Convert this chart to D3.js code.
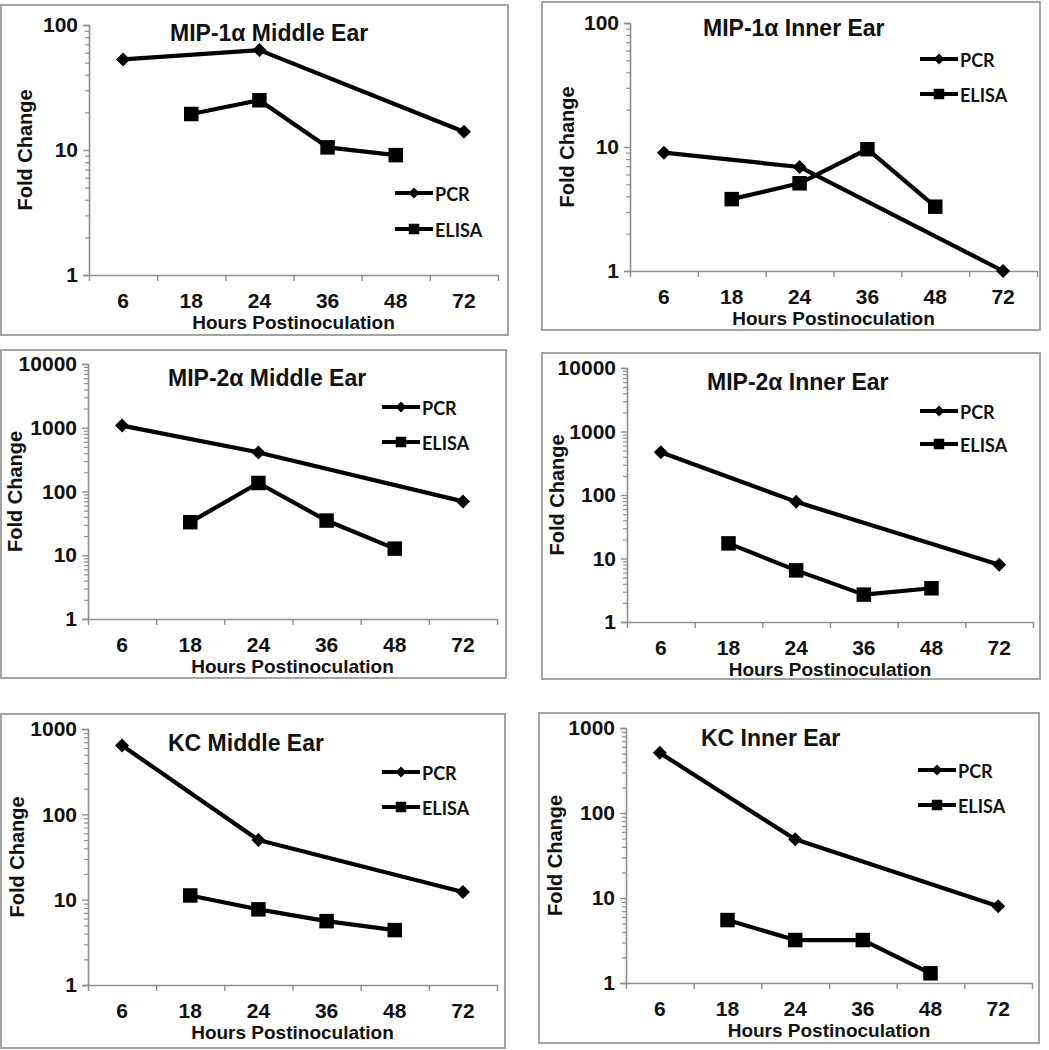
<!DOCTYPE html>
<html>
<head>
<meta charset="utf-8">
<script src="https://cdn.jsdelivr.net/npm/d3@7/dist/d3.min.js"></script>
<style>
  html, body { margin: 0; padding: 0; background: #fff; }
  svg { display: block; }
</style>
</head>
<body>
<svg id="chart" width="1049" height="1050"></svg>
<script>
// ---------- DATA ----------
const categories = ["6", "18", "24", "36", "48", "72"];
const panelTitles = ["MIP-1α Middle Ear", "MIP-1α Inner Ear", "MIP-2α Middle Ear", "MIP-2α Inner Ear", "KC Middle Ear", "KC Inner Ear"];
const seriesNames = ["PCR", "ELISA"];
const yMaxValues = [100, 100, 10000, 10000, 1000, 1000];
const pcrValues = [
  [53, null, 63, null, null, 14],
  [9, null, 6.9, null, null, 1],
  [1080, null, 410, null, null, 70],
  [470, null, 78, null, null, 8],
  [640, null, 50, null, null, 12.3],
  [510, null, 49, null, null, 8]
];
const elisaValues = [
  [null, 19.4, 25, 10.5, 9.1, null],
  [null, 3.8, 5.1, 9.6, 3.3, null],
  [null, 33, 136, 35, 12.7, null],
  [null, 17.3, 6.5, 2.7, 3.4, null],
  [null, 11.2, 7.7, 5.6, 4.4, null],
  [null, 5.5, 3.2, 3.2, 1.3, null]
];
const xAxisTitle = "Hours Postinoculation";
const yAxisTitle = "Fold Change";

// ---------- LAYOUT ----------
const layouts = [
  {frame:[1,5,507,330],   plot:[89,25,409,250],  titleX:170, titleY:33,  legX:395, legY:[193,229], yTitleDx:-64},
  {frame:[542,2,498,328], plot:[630,23,407,248], titleX:703, titleY:28,  legX:920, legY:[59,94],   yTitleDx:-63},
  {frame:[1,350,505,328], plot:[88,364,409,255], titleX:168, titleY:378, legX:382, legY:[407,442], yTitleDx:-73},
  {frame:[542,353,498,326],plot:[627,368,406,254],titleX:707, titleY:382, legX:920, legY:[411,444], yTitleDx:-70},
  {frame:[1,714,504,334], plot:[88,729,409,256], titleX:168, titleY:743, legX:382, legY:[772,807], yTitleDx:-71},
  {frame:[539,713,500,330],plot:[626,728,406,255],titleX:701, titleY:738, legX:918, legY:[770,805], yTitleDx:-71}
];

const svg = d3.select("#chart");
const axisGray = "#8e8e8e";
const mainFont = "'Liberation Sans', Arial, sans-serif";
const legendFont = "Lato, 'Open Sans', sans-serif";

const diamondPath = (s) => `M0,${-s}L${s},0L0,${s}L${-s},0Z`;

panelTitles.forEach((title, i) => {
  const L = layouts[i];
  const [fx, fy, fw, fh] = L.frame;
  const [px, py, pw, ph] = L.plot;

  svg.append("rect")
    .attr("x", fx).attr("y", fy).attr("width", fw).attr("height", fh)
    .attr("fill", "#fff").attr("stroke", "#a3a3a3").attr("stroke-width", 2);

  const g = svg.append("g");

  const x = d3.scaleBand().domain(categories).range([px, px + pw]);
  const xEdge = d3.scaleLinear().domain([0, categories.length]).range([px, px + pw]);
  const y = d3.scaleLog().domain([1, yMaxValues[i]]).range([py + ph, py]);

  const minor = [];
  for (let d = 1; d < yMaxValues[i]; d *= 10) {
    for (let k = 2; k <= 9; k++) minor.push(d * k);
  }
  const majors = [];
  for (let d = 1; d <= yMaxValues[i]; d *= 10) majors.push(d);

  const yMinorAxis = g.append("g").attr("transform", `translate(${px},0)`)
    .call(d3.axisLeft(y).tickValues(minor).tickSize(4).tickFormat(""));
  yMinorAxis.select(".domain").remove();
  yMinorAxis.selectAll("line").attr("stroke", axisGray).attr("stroke-width", 1.2);

  const yAxis = g.append("g").attr("transform", `translate(${px},0)`)
    .call(d3.axisLeft(y).tickValues(majors).tickSize(6).tickPadding(5).tickFormat(d3.format("d")));
  yAxis.select(".domain").attr("stroke", axisGray).attr("stroke-width", 1.6);
  yAxis.selectAll("line").attr("stroke", axisGray).attr("stroke-width", 1.4);
  yAxis.selectAll("text").attr("font-family", mainFont).attr("font-size", 21)
    .attr("font-weight", "bold").attr("fill", "#111");

  const xTickAxis = g.append("g").attr("transform", `translate(0,${py + ph})`)
    .call(d3.axisBottom(xEdge).tickValues(d3.range(categories.length + 1)).tickSize(6).tickSizeOuter(0).tickFormat(""));
  xTickAxis.select(".domain").attr("stroke", axisGray).attr("stroke-width", 1.6);
  xTickAxis.selectAll("line").attr("stroke", axisGray).attr("stroke-width", 1.4);

  const xLabelAxis = g.append("g").attr("transform", `translate(0,${py + ph})`)
    .call(d3.axisBottom(x).tickSize(0).tickPadding(18));
  xLabelAxis.select(".domain").remove();
  xLabelAxis.selectAll("text").attr("font-family", mainFont).attr("font-size", 21)
    .attr("font-weight", "bold").attr("fill", "#111");

  g.append("text")
    .attr("x", px + pw / 2).attr("y", py + ph + 47)
    .attr("text-anchor", "middle").attr("dominant-baseline", "central")
    .attr("font-family", mainFont).attr("font-size", 19).attr("font-weight", "bold").attr("fill", "#111")
    .text(xAxisTitle);

  g.append("text")
    .attr("transform", `translate(${px + L.yTitleDx},${py + ph / 2}) rotate(-90)`)
    .attr("text-anchor", "middle").attr("dominant-baseline", "central")
    .attr("font-family", mainFont).attr("font-size", 20).attr("font-weight", "bold").attr("fill", "#111")
    .text(yAxisTitle);

  g.append("text")
    .attr("x", L.titleX).attr("y", L.titleY)
    .attr("dominant-baseline", "central")
    .attr("font-family", mainFont).attr("font-size", 23).attr("font-weight", "bold").attr("fill", "#111")
    .text(title);

  const allSeries = [pcrValues[i], elisaValues[i]];
  const line = d3.line().x(d => x(d.c) + x.bandwidth() / 2).y(d => y(d.v));

  allSeries.forEach((vals, si) => {
    const pts = categories.map((c, k) => ({c, v: vals[k]})).filter(d => d.v != null);
    g.append("path").datum(pts)
      .attr("d", line).attr("fill", "none").attr("stroke", "#000")
      .attr("stroke-width", 4.2).attr("stroke-linejoin", "round");
    g.selectAll(null).data(pts).enter().append("path")
      .attr("transform", d => `translate(${x(d.c) + x.bandwidth() / 2},${y(d.v)})`)
      .attr("d", si === 0 ? diamondPath(7) : d3.symbol().type(d3.symbolSquare).size(210)())
      .attr("fill", "#000");
  });

  seriesNames.forEach((name, si) => {
    const ly = L.legY[si];
    const lg = g.append("g").attr("transform", `translate(${L.legX},${ly})`);
    lg.append("line").attr("x1", 0).attr("x2", 38).attr("y1", 0).attr("y2", 0)
      .attr("stroke", "#000").attr("stroke-width", 4);
    lg.append("path").attr("transform", "translate(19,0)")
      .attr("d", si === 0 ? diamondPath(5.5) : d3.symbol().type(d3.symbolSquare).size(110)())
      .attr("fill", "#000");
    lg.append("text").attr("x", 40).attr("y", 1)
      .attr("dominant-baseline", "central")
      .attr("font-family", legendFont).attr("font-size", 18).attr("font-weight", "bold").attr("fill", "#111")
      .text(name);
  });
});
</script>
</body>
</html>
